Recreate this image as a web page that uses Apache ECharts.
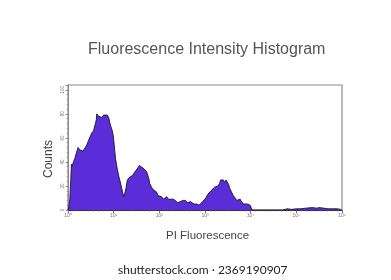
<!DOCTYPE html>
<html>
<head>
<meta charset="utf-8">
<script src="https://cdn.jsdelivr.net/npm/echarts@6/dist/echarts.min.js"></script>
<style>html,body{margin:0;padding:0;background:#fff}#c{width:391px;height:280px}</style>
</head>
<body>
<div id="c"></div>
<script>
// log10 of PI fluorescence intensity (decades)
var logIntensity = [0, 0.02, 0.04, 0.06, 0.075, 0.09, 0.11, 0.13, 0.15, 0.18, 0.22, 0.26, 0.30, 0.33, 0.37, 0.41, 0.45, 0.48, 0.52, 0.56, 0.60, 0.62, 0.63, 0.67, 0.71, 0.74, 0.78, 0.82, 0.86, 0.89, 0.92, 0.95, 0.97, 0.99, 1.01, 1.04, 1.08, 1.12, 1.16, 1.20, 1.23, 1.25, 1.27, 1.30, 1.34, 1.38, 1.42, 1.45, 1.49, 1.53, 1.56, 1.60, 1.64, 1.68, 1.72, 1.75, 1.77, 1.79, 1.83, 1.86, 1.90, 1.94, 1.97, 2.01, 2.05, 2.09, 2.12, 2.16, 2.20, 2.24, 2.30, 2.35, 2.40, 2.46, 2.52, 2.57, 2.62, 2.68, 2.72, 2.76, 2.82, 2.87, 2.91, 2.95, 2.98, 3.02, 3.06, 3.09, 3.13, 3.17, 3.21, 3.24, 3.28, 3.32, 3.34, 3.36, 3.40, 3.43, 3.46, 3.49, 3.52, 3.54, 3.58, 3.62, 3.66, 3.69, 3.73, 3.77, 3.80, 3.84, 3.88, 3.92, 3.96, 3.99, 4.01, 4.03, 4.7, 4.8, 4.9, 5.0, 5.1, 5.2, 5.35, 5.45, 5.5, 5.6, 5.7, 5.8, 5.9, 5.97, 6.0];
var counts = [0, 3, 9, 24, 38, 36, 39, 41, 43, 47, 52, 50, 51, 49, 49, 54, 58, 57, 64, 66, 72, 75, 80, 78, 79, 77, 79, 78, 79, 77, 72, 68, 66, 62, 55, 43, 34, 27, 21, 14, 11, 15, 18, 25, 27, 26, 29, 31, 33, 35, 37, 36, 35, 35, 32, 31, 26, 22, 19, 17, 16, 15, 12, 13, 11, 9, 10, 11, 9, 8, 9, 8, 6, 7, 8, 8, 6, 7, 6, 5, 5, 4, 5, 7, 8, 10, 13, 14, 16, 17, 19, 19, 20, 22, 25, 24, 25, 23, 25, 24, 21, 18, 15, 12, 10, 8, 9, 9, 7, 5, 6, 5, 5, 4, 3, 0, 0, 1, 0.5, 1, 1, 1.5, 2, 1.5, 2, 1.5, 1, 1, 1, 0.5, 0];
var xTicks = ['10⁰', '10¹', '10²', '10³', '10⁴', '10⁵', '10⁶'];
var yTicks = [0, 20, 40, 60, 80, 100];

var chart = echarts.init(document.getElementById('c'), null, {renderer: 'canvas'});
var pts = logIntensity.map(function (v, i) { return [v, counts[i]]; });
var font = 'Liberation Sans, Arial, sans-serif';
chart.setOption({
  backgroundColor: '#ffffff',
  animation: false,
  title: {
    text: 'Fluorescence Intensity Histogram',
    left: 83, top: 37,
    textStyle: {fontFamily: font, fontSize: 16, fontWeight: 'normal', color: '#555'}
  },
  grid: {left: 68, right: 49, top: 85, bottom: 70, show: true, borderColor: '#8a8a8a', borderWidth: 1.2, backgroundColor: '#fff'},
  xAxis: {
    type: 'value', min: 0, max: 6, interval: 1,
    axisLine: {show: true, lineStyle: {color: '#333', width: 1}},
    axisTick: {show: true, length: 3, lineStyle: {color: '#555', width: 0.8}},
    minorTick: {show: true, splitNumber: 9, length: 1.5, lineStyle: {color: '#666', width: 0.6}},
    axisLabel: {fontFamily: font, fontSize: 5, color: '#777', margin: 3,
      formatter: function (v) { return xTicks[Math.round(v)] || ''; }},
    splitLine: {show: false}
  },
  yAxis: {
    type: 'value', min: 0, max: 104, interval: 20,
    axisLine: {show: true, lineStyle: {color: '#8a8a8a', width: 1}},
    axisTick: {show: true, length: 2.5, lineStyle: {color: '#777', width: 0.8}},
    minorTick: {show: true, splitNumber: 5, length: 1.5, lineStyle: {color: '#888', width: 0.6}},
    axisLabel: {fontFamily: font, fontSize: 4.5, color: '#777', margin: 3, rotate: 90, showMaxLabel: false,
      formatter: function (v) { return yTicks.indexOf(v) >= 0 ? String(v) : ''; }},
    splitLine: {show: false}
  },
  series: [{
    type: 'line',
    data: pts,
    symbol: 'none',
    smooth: false,
    lineStyle: {color: '#1c1233', width: 0.9},
    areaStyle: {color: '#5a2dd8', opacity: 1}
  }],
  graphic: [
    {type: 'text', left: 43, top: 140, rotation: Math.PI / 2, style: {text: 'Counts', fontFamily: font, fontSize: 12, fill: '#444'}},
    {type: 'text', left: 166, top: 230, style: {text: 'PI Fluorescence', fontFamily: font, fontSize: 11.5, fill: '#444'}},
    {type: 'text', left: 118, top: 264, style: {text: 'shutterstock.com · 2369190907', fontFamily: 'Lato, sans-serif', fontSize: 12, fill: '#222'}}
  ]
});
</script>
</body>
</html>
